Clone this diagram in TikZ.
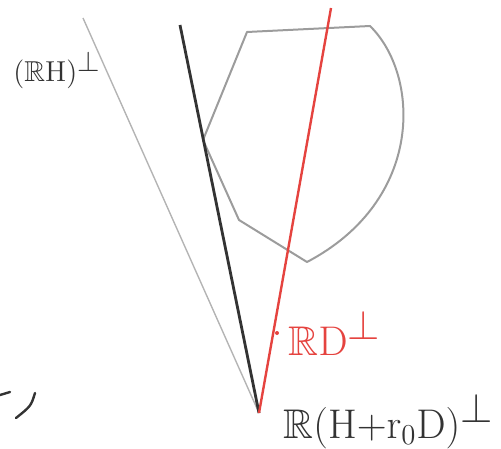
\documentclass[tikz,border=0pt]{standalone}
\usepackage{amssymb}
\usepackage{xcolor}
\definecolor{pencilred}{HTML}{E5433F}
\definecolor{pencilgrey}{HTML}{B4B4B4}
\definecolor{pencilmid}{HTML}{9C9C9C}
\definecolor{pencildark}{HTML}{333333}
\tikzset{
  faintray/.style={draw=pencilgrey,line width=0.7pt},
  darkray/.style={draw=pencildark,line width=1.4pt},
  redray/.style={draw=pencilred,line width=1.2pt},
  hullline/.style={draw=pencilmid,line width=1pt,line join=round},
  scrawl/.style={draw=pencildark,line width=1.2pt,line cap=round},
  sketchlabel/.style={anchor=base west,inner sep=0pt}
}
\newcommand{\bigperp}{^{\textstyle\perp}}

\begin{document}
\begin{tikzpicture}[x=0.5pt,y=-0.5pt]
  \useasboundingbox (0,0) rectangle (501,448);
  % cone vertex and ray ends
  \coordinate (apex) at (259,413);
  \coordinate (greytip) at (83,18);
  \coordinate (darktip) at (180,25);
  \coordinate (redtip) at (331,8);
  % convex set
  \coordinate (hullnw) at (247,32);
  \coordinate (hullne) at (370,26);
  \coordinate (hulls) at (307,262);
  \coordinate (hullsw) at (239,220);
  \coordinate (hullw) at (203,140);
  \draw[hullline] (hullnw) -- (hullne)
    .. controls (420,75) and (425,200) .. (hulls)
    -- (hullsw) -- (hullw) -- cycle;
  % rays
  \draw[faintray] (apex) -- (greytip);
  \draw[darkray] (apex) -- (darktip);
  \draw[redray] (apex) -- (redtip);
  \fill[pencilred] (277,333) circle (2);
  % labels
  \node[sketchlabel,text=pencildark,font=\Large]
    (labelh) at (13,82) {$(\mathbb{R}\mathrm{H})\bigperp$};
  \node[sketchlabel,text=pencilred,font=\huge]
    (labeld) at (288,355) {$\mathbb{R}\mathrm{D}\bigperp$};
  \node[sketchlabel,text=pencildark,font=\huge]
    (labelhd) at (283,438) {$\mathbb{R}(\mathrm{H}{+}\mathrm{r}_0\mathrm{D})\bigperp$};
  % cut-off scribble at the left
  \draw[scrawl] (0,395) -- (10,392);
  \draw[scrawl] (35,393) .. controls (31,406) .. (16,418);
\end{tikzpicture}
\end{document}
